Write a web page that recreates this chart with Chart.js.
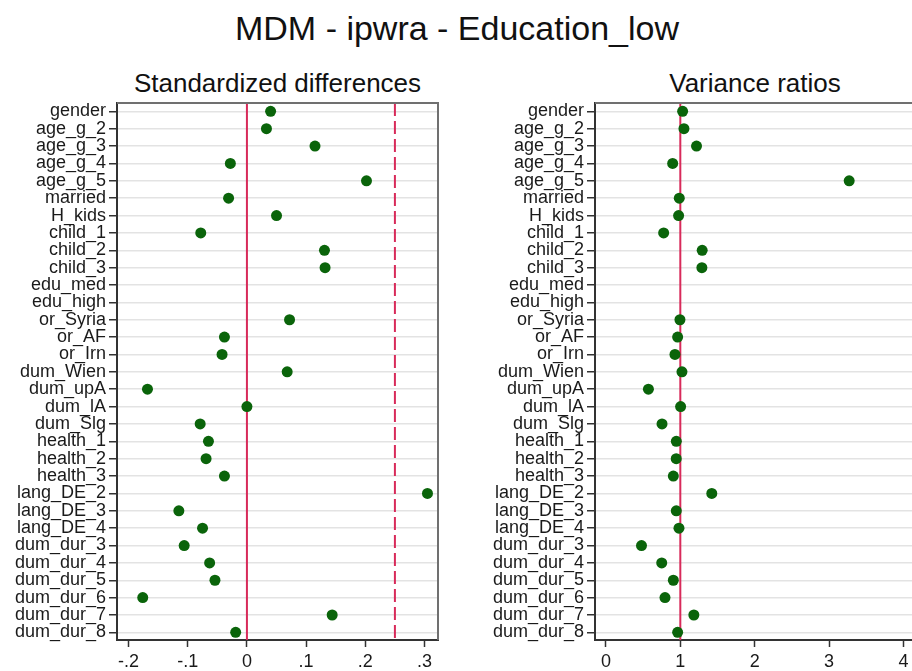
<!DOCTYPE html>
<html>
<head>
<meta charset="utf-8">
<script src="https://cdn.jsdelivr.net/npm/chart.js@4"></script>
<style>
  html, body { margin: 0; padding: 0; background: #fff; }
  body { width: 912px; height: 671px; overflow: hidden; position: relative; font-family: "Liberation Sans", Arial, sans-serif; }
  .t { position: absolute; white-space: nowrap; color: #111; text-align: center; }
  #main { left: 0; width: 914px; top: 11px; font-size: 34px; line-height: 34px; }
  #sub1 { left: 117px; width: 321px; top: 70px; font-size: 26px; line-height: 26px; }
  #sub2 { left: 595px; width: 320px; top: 70px; font-size: 26px; line-height: 26px; }
  #c1 { position: absolute; left: 0; top: 0; }
  #c2 { position: absolute; left: 456px; top: 0; }
</style>
</head>
<body>
<div class="t" id="main">MDM - ipwra - Education_low</div>
<div class="t" id="sub1">Standardized differences</div>
<div class="t" id="sub2">Variance ratios</div>
<canvas id="c1" width="456" height="671" style="width:456px;height:671px"></canvas>
<canvas id="c2" width="470" height="671" style="width:470px;height:671px"></canvas>
<script>
const categories = ["gender","age_g_2","age_g_3","age_g_4","age_g_5","married","H_kids","child_1","child_2","child_3","edu_med","edu_high","or_Syria","or_AF","or_Irn","dum_Wien","dum_upA","dum_lA","dum_Slg","health_1","health_2","health_3","lang_DE_2","lang_DE_3","lang_DE_4","dum_dur_3","dum_dur_4","dum_dur_5","dum_dur_6","dum_dur_7","dum_dur_8"];
const stdDiff = [0.040,0.033,0.115,-0.028,0.202,-0.031,0.050,-0.078,0.131,0.132,null,null,0.072,-0.038,-0.042,0.068,-0.168,0.000,-0.079,-0.065,-0.069,-0.038,0.305,-0.115,-0.075,-0.106,-0.063,-0.054,-0.176,0.144,-0.019];
const varRatio = [1.031,1.049,1.218,0.897,3.271,0.986,0.977,0.776,1.294,1.290,null,null,0.995,0.964,0.928,1.022,0.571,1.004,0.754,0.946,0.945,0.906,1.423,0.946,0.982,0.478,0.750,0.906,0.794,1.182,0.964];
const leftTickValues = [-0.2,-0.1,0,0.1,0.2,0.3];
const leftTickLabels = ["-.2","-.1","0",".1",".2",".3"];
const rightTickValues = [0,1,2,3,4];
const rightTickLabels = ["0","1","2","3","4"];
const leftRefLines = [{value:0, dash:[]},{value:0.25, dash:[13,5]}];
const rightRefLines = [{value:1, dash:[]}];

const GREEN = '#0a640a';
const RED = '#d82a5a';
const FONT = "'Liberation Sans', Arial, sans-serif";
const YMIN = -0.48, YMAX = 30.44;

const framePlugin = {
  id: 'frame',
  afterDraw(chart) {
    const a = chart.chartArea, ctx = chart.ctx;
    ctx.save();
    ctx.strokeStyle = '#707070';
    ctx.lineWidth = 2;
    ctx.beginPath();
    ctx.moveTo(a.left, a.top); ctx.lineTo(a.right, a.top); ctx.lineTo(a.right, a.bottom);
    ctx.stroke();
    ctx.restore();
  }
};

function makeChart(id, values, xmin, xmax, tickValues, tickLabels, refLines, yWidth, padRight) {
  const pts = [];
  values.forEach((v, i) => { if (v !== null) pts.push({x: v, y: i}); });
  const datasets = [{
    type: 'scatter',
    data: pts,
    pointRadius: 5.5,
    pointBackgroundColor: GREEN,
    pointBorderColor: GREEN,
    pointBorderWidth: 0,
  }];
  refLines.forEach(r => datasets.push({
    type: 'line',
    data: [{x: r.value, y: YMIN}, {x: r.value, y: YMAX}],
    borderColor: RED,
    borderWidth: 2,
    borderDash: r.dash,
    pointRadius: 0,
    fill: false,
  }));
  return new Chart(document.getElementById(id), {
    type: 'scatter',
    data: { datasets },
    plugins: [framePlugin],
    options: {
      responsive: false,
      animation: false,
      events: [],
      layout: { padding: { top: 103, right: padRight, left: 0, bottom: 0 } },
      plugins: { legend: { display: false }, tooltip: { enabled: false }, title: { display: false } },
      scales: {
        x: {
          type: 'linear',
          min: xmin, max: xmax,
          afterBuildTicks: s => { s.ticks = tickValues.map(v => ({value: v})); },
          afterFit: s => { s.height = 31; },
          ticks: {
            autoSkip: false,
            maxRotation: 0,
            padding: 4,
            color: '#1a1a1a',
            font: { family: FONT, size: 18 },
            callback: (v) => tickLabels[tickValues.indexOf(v)]
          },
          grid: { drawOnChartArea: false, drawTicks: true, tickLength: 7, tickColor: '#333', tickWidth: 1.5 },
          border: { display: true, color: '#333', width: 2 }
        },
        y: {
          type: 'linear',
          reverse: true,
          min: YMIN, max: YMAX,
          afterBuildTicks: s => { s.ticks = categories.map((c, i) => ({value: i})); },
          afterFit: s => { s.width = yWidth; },
          ticks: {
            autoSkip: false,
            padding: 3,
            color: '#1a1a1a',
            font: { family: FONT, size: 18 },
            callback: (v) => categories[v]
          },
          grid: { color: '#e3e3e3', lineWidth: 1.5, drawTicks: true, tickLength: 8, tickColor: '#333', tickWidth: 1.5 },
          border: { display: true, color: '#333', width: 2 }
        }
      }
    }
  });
}

makeChart('c1', stdDiff, -0.2195, 0.3228, leftTickValues, leftTickLabels, leftRefLines, 117, 18);
makeChart('c2', varRatio, -0.1473, 4.23, rightTickValues, rightTickLabels, rightRefLines, 139, 4);
</script>
</body>
</html>
